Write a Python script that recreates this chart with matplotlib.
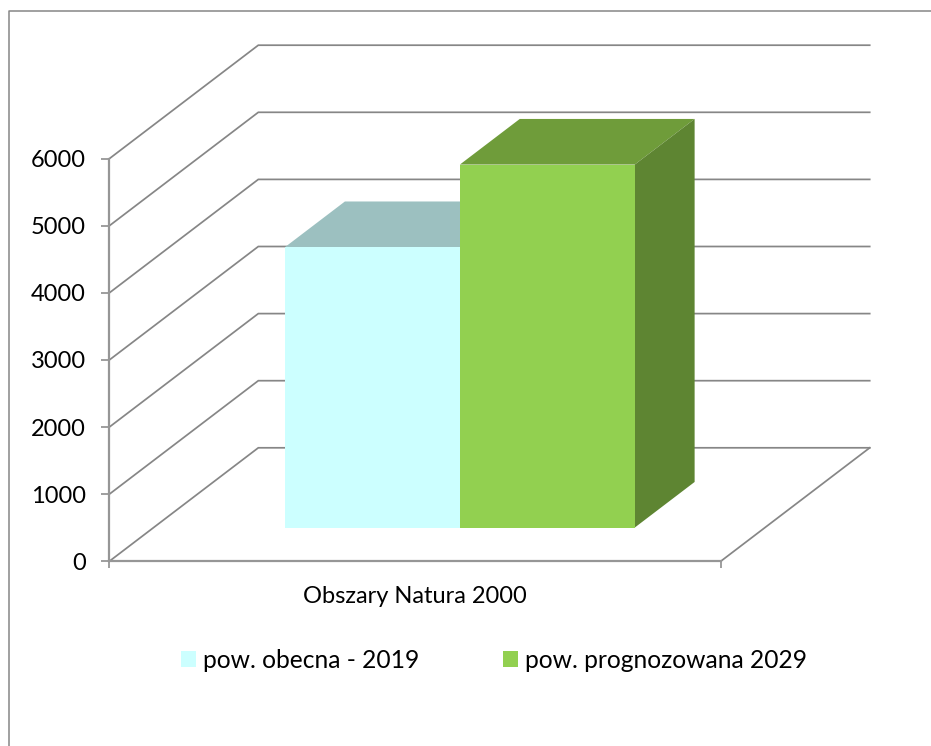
import matplotlib
matplotlib.use("Agg")
import matplotlib.pyplot as plt
from matplotlib.lines import Line2D
from matplotlib.patches import Patch, Polygon

plt.rcParams['font.family'] = ['Lato', 'DejaVu Sans']

category = ["Obszary Natura 2000"]
series_names = ["pow. obecna - 2019", "pow. prognozowana 2029"]
series_values = [4180, 5410]
y_ticks = [0, 1000, 2000, 3000, 4000, 5000, 6000]

W, H = 931, 746
GREY = '#868686'
# oblique depth of the 3d box, as a shift in data units per unit of depth
DX = 149 / 611.4
DY = 113.5 / 67.1 * 1000
BAR_D0, BAR_D1 = 0.297, 0.699
BAR_X0, BAR_W = 0.215, 0.286
colors = [
    {'front': '#CCFFFF', 'top': '#9CC0C0', 'side': '#7FA3A3'},
    {'front': '#92D050', 'top': '#6F9C3A', 'side': '#5E8532'},
]


def proj(x, y, d):
    return (x + d * DX, y + d * DY)


fig = plt.figure(figsize=(W / 100, H / 100), dpi=100)
ax = fig.add_axes([109.3 / W, 1 - 561.3 / H, 611.4 / W, 402.6 / H])
ax.set_xlim(0, 1)
ax.set_ylim(0, 6000)
ax.patch.set_visible(False)

# outer frame of the chart area, only top and left fall inside the picture
fig.add_artist(Line2D([8.5 / W, 8.5 / W, 1], [0, 1 - 10.5 / H, 1 - 10.5 / H],
                      color=GREY, lw=1.1, transform=fig.transFigure))

# gridlines on side wall and back wall
for v in y_ticks:
    pts = [proj(0, v, 0), proj(0, v, 1), proj(1, v, 1)]
    ax.plot(*zip(*pts), color=GREY, lw=1.25, clip_on=False, zorder=1,
            solid_joinstyle='miter')
ax.plot(*zip(proj(1, 0, 0), proj(1, 0, 1)), color=GREY, lw=1.25, clip_on=False, zorder=1)

# bars as three faces each
for i, val in enumerate(series_values):
    x0 = BAR_X0 + i * BAR_W
    x1 = x0 + BAR_W
    c = colors[i]
    top = [proj(x0, val, BAR_D0), proj(x1, val, BAR_D0), proj(x1, val, BAR_D1), proj(x0, val, BAR_D1)]
    side = [proj(x1, 0, BAR_D0), proj(x1, val, BAR_D0), proj(x1, val, BAR_D1), proj(x1, 0, BAR_D1)]
    front = [proj(x0, 0, BAR_D0), proj(x1, 0, BAR_D0), proj(x1, val, BAR_D0), proj(x0, val, BAR_D0)]
    z = 2 + i
    ax.add_patch(Polygon(top, fc=c['top'], ec='none', clip_on=False, zorder=z))
    ax.add_patch(Polygon(side, fc=c['side'], ec='none', clip_on=False, zorder=z))
    ax.add_patch(Polygon(front, fc=c['front'], ec='none', clip_on=False, zorder=z))

for s in ['top', 'right']:
    ax.spines[s].set_visible(False)
for s in ['left', 'bottom']:
    ax.spines[s].set_color('#969696')
    ax.spines[s].set_linewidth(1.6)

ax.set_yticks(y_ticks)
ax.set_xticks([0.5], category)
ax.set_xticks([0, 1], minor=True)
ax.tick_params(axis='y', length=5.5, width=1.3, color='#969696', pad=11.5, labelsize=17)
ax.tick_params(axis='x', which='major', length=0, pad=17.5, labelsize=17)
ax.tick_params(axis='x', which='minor', length=5, width=1.3, color='#969696')

handles = [Patch(fc=colors[i]['front'], ec='none', label=series_names[i]) for i in range(2)]
fig.legend(handles=handles, ncol=2, frameon=False, fontsize=17.7,
           loc='center', bbox_to_anchor=(494 / W, 1 - 660 / H),
           handlelength=0.6, handleheight=0.6, handletextpad=0.3,
           columnspacing=3.4)

fig.savefig("out.png", dpi=100)
